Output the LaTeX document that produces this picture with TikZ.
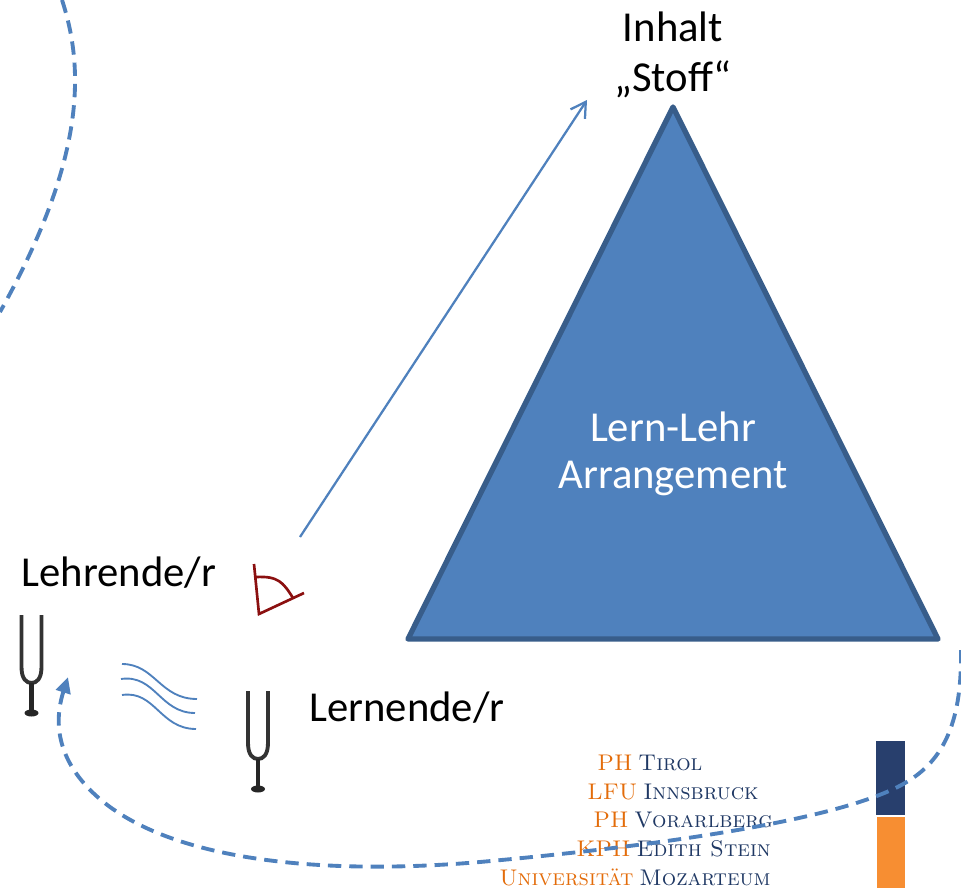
\documentclass[tikz,border=0pt]{standalone}
\usepackage{fontspec}
\setsansfont{Carlito}
\usetikzlibrary{arrows.meta}
\definecolor{triblue}{HTML}{4F81BD}
\definecolor{triedge}{HTML}{385D8A}
\definecolor{eyered}{HTML}{8B1010}
\definecolor{uninavy}{HTML}{1F3864}
\definecolor{unibar}{HTML}{283F6D}
\definecolor{uniorange}{HTML}{E36C0A}
\definecolor{barorange}{HTML}{F78E32}
\tikzset{
  label text/.style={font=\sffamily\fontsize{32}{38}\selectfont, text=black, inner sep=0pt},
  uni text/.style={font=\rmfamily\scshape\fontsize{17}{20}\selectfont, text=uninavy, inner sep=0pt, anchor=base west},
  loop line/.style={triblue, line width=2.9pt, dash pattern=on 10pt off 6pt},
  wave line/.style={triblue, line width=1.4pt},
  fork/.pic={
    \draw [black!80,line width=2.9pt] (-10,0) -- (-10,52) .. controls (-10,64) and (-5,68) .. (0,68) .. controls (5,68) and (10,64) .. (10,52) -- (10,0);
    \draw [black!85,line width=3.6pt] (0,68) -- (0,95);
    \fill [black!85] (0,98) ellipse (7 and 3.5);
  }
}
\newcommand{\uo}[1]{\textcolor{uniorange}{#1}\hspace{-2pt}}
\begin{document}
\begin{tikzpicture}[x=.75pt,y=-.75pt]
\useasboundingbox (0,0) rectangle (961,888);
% triangle
\draw [fill=triblue,draw=triedge,line width=4pt,line join=round] (673,107) -- (938,639) -- (408,639) -- cycle;
\node [label text,text=white] (lehr) at (673,427) {Lern-Lehr};
\node [label text,text=white] (arrangement) at (673,478) {Arrangement};
\node [label text] (inhalt) at (673,27) {Inhalt};
\node [label text] (stoff) at (673,79) {„Stoff“};
\node [label text] (lehrende) at (119,573) {Lehrende/r};
\node [label text] (lernende) at (407,708) {Lernende/r};
% view arrow
\coordinate (viewstart) at (300,537);
\coordinate (viewend) at (587,100);
\draw [triblue,line width=1.7pt,-{Straight Barb[length=11pt,width=13pt]}] (viewstart) -- (viewend);
% eye
\draw [eyered,line width=2pt] (254,564) -- (259,614) -- (304,593);
\draw [eyered,line width=2pt] (256,577) .. controls (278,576) and (283,582) .. (293,598);
% forks
\pic at (31.5,615) {fork};
\pic at (258,691) {fork};
% waves
\draw [wave line] (122,664) .. controls (155,664) and (160,699) .. (197,699);
\draw [wave line] (121,679) .. controls (155,674) and (160,713) .. (195,713);
\draw [wave line] (122,695) .. controls (155,690) and (160,729) .. (196,729);
% universities
\node [uni text] (tirol) at (597,770) {\uo{PH} Tirol};
\node [uni text] (innsbruck) at (587,799) {\uo{LFU} Innsbruck};
\node [uni text] (vorarlberg) at (593,827) {\uo{PH} Vorarlberg};
\node [uni text] (stein) at (576,856) {\uo{KPH} Edith Stein};
\node [uni text] (mozarteum) at (499,885) {\uo{Universität} Mozarteum};
\fill [unibar] (876,741) rectangle (905,815);
\fill [barorange] (877,817) rectangle (905,888);
% dashed loop
\coordinate (topstart) at (62,0);
\coordinate (topend) at (0,312);
\draw [loop line] (topstart) .. controls (85,70) and (85,160) .. (topend);
\coordinate (loopstart) at (961,650);
\coordinate (loopend) at (68,677);
\draw [loop line,-{Triangle[length=12pt,width=11pt]}] (loopstart) .. controls (962,720) and (945,760) .. (905,783) .. controls (850,815) and (700,842) .. (480,862) .. controls (340,874) and (190,865) .. (110,807) .. controls (72,779) and (48,740) .. (loopend);
\end{tikzpicture}
\end{document}
